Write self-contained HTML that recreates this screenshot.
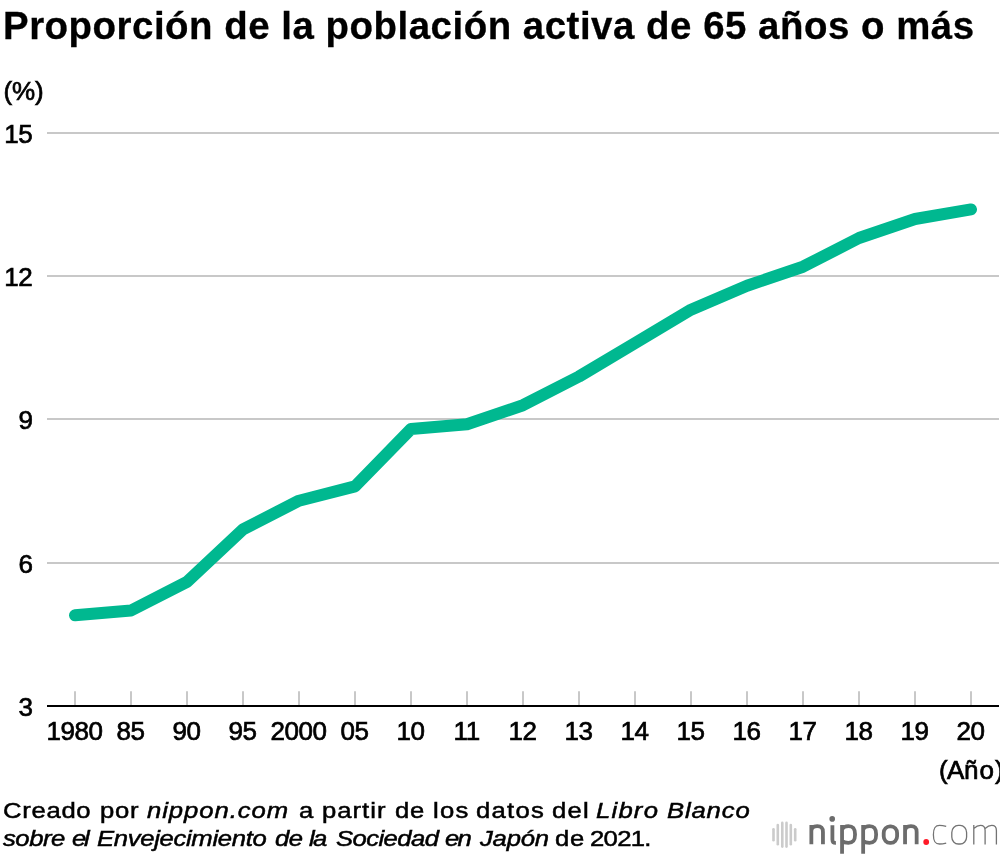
<!DOCTYPE html>
<html><head><meta charset="utf-8"><style>
html,body{margin:0;padding:0;background:#fff;}
body{width:1000px;height:856px;overflow:hidden;position:relative;font-family:"Liberation Sans",sans-serif;color:#000;}
svg text{font-family:"Liberation Sans",sans-serif;font-size:26px;fill:#000;stroke:#000;stroke-width:0.7px;letter-spacing:-0.45px;}
.title{will-change:transform;position:absolute;left:2.6px;top:3.9px;font-weight:bold;font-size:38.4px;white-space:nowrap;letter-spacing:0.53px;-webkit-text-stroke:0.3px #000;}
.foot{will-change:transform;position:absolute;left:0;top:0;font-size:22.3px;line-height:normal;-webkit-text-stroke:0.5px #000;}
.w{position:absolute;white-space:nowrap;transform:scaleX(1.15);transform-origin:0 0;}
.i{font-style:italic;}
</style></head><body>
<div class="title">Proporción de la población activa de 65 años o más</div>
<svg width="1000" height="856" style="position:absolute;left:0;top:0;will-change:transform">
<line x1="47" x2="999" y1="133" y2="133" stroke="#c8c8c8" stroke-width="2"/><line x1="47" x2="999" y1="276" y2="276" stroke="#c8c8c8" stroke-width="2"/><line x1="47" x2="999" y1="419" y2="419" stroke="#c8c8c8" stroke-width="2"/><line x1="47" x2="999" y1="563" y2="563" stroke="#c8c8c8" stroke-width="2"/>
<line x1="75" x2="75" y1="691.3" y2="706" stroke="#c8c8c8" stroke-width="2"/><line x1="131" x2="131" y1="691.3" y2="706" stroke="#c8c8c8" stroke-width="2"/><line x1="187" x2="187" y1="691.3" y2="706" stroke="#c8c8c8" stroke-width="2"/><line x1="243" x2="243" y1="691.3" y2="706" stroke="#c8c8c8" stroke-width="2"/><line x1="299" x2="299" y1="691.3" y2="706" stroke="#c8c8c8" stroke-width="2"/><line x1="355" x2="355" y1="691.3" y2="706" stroke="#c8c8c8" stroke-width="2"/><line x1="411" x2="411" y1="691.3" y2="706" stroke="#c8c8c8" stroke-width="2"/><line x1="467" x2="467" y1="691.3" y2="706" stroke="#c8c8c8" stroke-width="2"/><line x1="523" x2="523" y1="691.3" y2="706" stroke="#c8c8c8" stroke-width="2"/><line x1="579" x2="579" y1="691.3" y2="706" stroke="#c8c8c8" stroke-width="2"/><line x1="635" x2="635" y1="691.3" y2="706" stroke="#c8c8c8" stroke-width="2"/><line x1="691" x2="691" y1="691.3" y2="706" stroke="#c8c8c8" stroke-width="2"/><line x1="747" x2="747" y1="691.3" y2="706" stroke="#c8c8c8" stroke-width="2"/><line x1="803" x2="803" y1="691.3" y2="706" stroke="#c8c8c8" stroke-width="2"/><line x1="859" x2="859" y1="691.3" y2="706" stroke="#c8c8c8" stroke-width="2"/><line x1="915" x2="915" y1="691.3" y2="706" stroke="#c8c8c8" stroke-width="2"/><line x1="971" x2="971" y1="691.3" y2="706" stroke="#c8c8c8" stroke-width="2"/>
<line x1="47" x2="999" y1="706" y2="706" stroke="#000" stroke-width="2"/>
<polyline points="75,615.3 131,610.5 187,581.9 243,529.3 299,500.7 355,486.4 411,429.0 467,424.3 523,405.2 579,376.5 635,343.1 691,309.7 747,285.8 803,266.7 859,238.0 915,219.0 971,209.4" fill="none" stroke="#00b890" stroke-width="12" stroke-linecap="round" stroke-linejoin="round"/>
<text x="74.6" y="739.7" text-anchor="middle">1980</text><text x="130.6" y="739.7" text-anchor="middle">85</text><text x="186.6" y="739.7" text-anchor="middle">90</text><text x="242.6" y="739.7" text-anchor="middle">95</text><text x="298.6" y="739.7" text-anchor="middle">2000</text><text x="354.6" y="739.7" text-anchor="middle">05</text><text x="410.6" y="739.7" text-anchor="middle">10</text><text x="466.6" y="739.7" text-anchor="middle">11</text><text x="522.6" y="739.7" text-anchor="middle">12</text><text x="578.6" y="739.7" text-anchor="middle">13</text><text x="634.6" y="739.7" text-anchor="middle">14</text><text x="690.6" y="739.7" text-anchor="middle">15</text><text x="746.6" y="739.7" text-anchor="middle">16</text><text x="802.6" y="739.7" text-anchor="middle">17</text><text x="858.6" y="739.7" text-anchor="middle">18</text><text x="914.6" y="739.7" text-anchor="middle">19</text><text x="970.6" y="739.7" text-anchor="middle">20</text>
<text x="32.4" y="143.2" text-anchor="end">15</text><text x="32.4" y="286.2" text-anchor="end">12</text><text x="32.4" y="429.2" text-anchor="end">9</text><text x="32.4" y="573.2" text-anchor="end">6</text><text x="32.4" y="716.2" text-anchor="end">3</text>
<text x="3.5" y="100" style="letter-spacing:-0.1px">(%)</text>
<g fill="none" stroke-linecap="round"><line x1="773.5" x2="773.5" y1="829.3000000000001" y2="840.1999999999999" stroke="#cbcbcb" stroke-width="2.6"/><line x1="777.8" x2="777.8" y1="825.1" y2="844.3" stroke="#cbcbcb" stroke-width="2.6"/><line x1="782.3" x2="782.3" y1="822.9000000000001" y2="846.5999999999999" stroke="#cbcbcb" stroke-width="2.6"/><line x1="786.5" x2="786.5" y1="822.9000000000001" y2="846.5999999999999" stroke="#cbcbcb" stroke-width="2.6"/><line x1="790.8" x2="790.8" y1="825.1" y2="844.3" stroke="#cbcbcb" stroke-width="2.6"/><line x1="795.2" x2="795.2" y1="829.3000000000001" y2="840.1999999999999" stroke="#cbcbcb" stroke-width="2.6"/></g><g fill="none" stroke="#6c6c6c" stroke-width="3.8" stroke-linejoin="round"><path d="M811.35,844.2 V824.9 M811.35,831 C811.35,828 813.5500000000001,826.2 817.25,826.2 C821.75,826.2 822.95,828.3 822.95,832 V844.2"/><path d="M832.4,825.3 V839.6 C832.4,842.2 833.3,843 835.9,842.9"/><path d="M842.0500000000001,824.9 V853.7 M842.0500000000001,829 C843.5500000000001,827 845.5500000000001,826.2 848.35,826.2 C853.7500000000001,826.2 855.0500000000001,829.5 855.0500000000001,834.5 C855.0500000000001,839.8 853.7500000000001,842.8 848.35,842.8 C845.5500000000001,842.8 843.5500000000001,842.3 842.0500000000001,841"/><path d="M863.1500000000001,824.9 V853.7 M863.1500000000001,829 C864.6500000000001,827 866.6500000000001,826.2 869.45,826.2 C874.8500000000001,826.2 876.1500000000001,829.5 876.1500000000001,834.5 C876.1500000000001,839.8 874.8500000000001,842.8 869.45,842.8 C866.6500000000001,842.8 864.6500000000001,842.3 863.1500000000001,841"/><rect x="883.7" y="826.3" width="13.4" height="16.6" rx="6.2" ry="6.6"/><path d="M905.0500000000001,844.2 V824.9 M905.0500000000001,831 C905.0500000000001,828 907.2500000000001,826.2 910.95,826.2 C915.45,826.2 916.6500000000001,828.3 916.6500000000001,832 V844.2"/></g><circle cx="832.2" cy="818.9" r="2.8" fill="#6c6c6c"/><circle cx="926.2" cy="842" r="2.9" fill="#ff1a28"/><g fill="none" stroke="#737373" stroke-width="1.3"><path d="M946.2,826.3 C943,825.5 941,825.4 939.5,825.4 C935,825.4 933.4,828 933.4,834.7 C933.4,841.4 935,844 939.5,844 C941,844 943,843.9 946.2,843.1"/><rect x="951.8" y="825.4" width="14.8" height="18.6" rx="6.5" ry="7"/><path d="M973.8,824.9 V844.4 M973.8,828.5 C976,826.5 978.5,825.4 980.5,825.4 C983.8,825.4 985.1,827 985.1,830.5 V844.4 M985.1,828.5 C987.3,826.5 989.8,825.4 991.8,825.4 C995.1,825.4 996.4,827 996.4,830.5 V844.4"/></g>
<text x="939.0 947.1 964.1 979.5 995" y="779">(Año)</text>
</svg>
<div class="foot"><span class="w" style="left:2.75px;top:798.12px;letter-spacing:0.61px">Creado</span><span class="w" style="left:99.50px;top:798.12px;letter-spacing:0.67px">por</span><span class="w i" style="left:147.20px;top:798.12px;letter-spacing:0.83px">nippon.com</span><span class="w" style="left:298.50px;top:798.12px;letter-spacing:0px">a</span><span class="w" style="left:321.75px;top:798.12px;letter-spacing:0.87px">partir</span><span class="w" style="left:394.50px;top:798.12px;letter-spacing:0.75px">de</span><span class="w" style="left:432.80px;top:798.12px;letter-spacing:1.09px">los</span><span class="w" style="left:476.00px;top:798.12px;letter-spacing:1.11px">datos</span><span class="w" style="left:551.75px;top:798.12px;letter-spacing:1.11px">del</span><span class="w i" style="left:596.00px;top:798.12px;letter-spacing:1.06px">Libro</span><span class="w i" style="left:667.25px;top:798.12px;letter-spacing:0.74px">Blanco</span><span class="w i" style="left:3.00px;top:826.07px;letter-spacing:-0.39px">sobre</span><span class="w i" style="left:72.00px;top:826.07px;letter-spacing:-2.0px">el</span><span class="w i" style="left:97.25px;top:826.07px;letter-spacing:-0.28px">Envejecimiento</span><span class="w i" style="left:274.75px;top:826.07px;letter-spacing:-0.55px">de</span><span class="w i" style="left:309.25px;top:826.07px;letter-spacing:-1.4px">la</span><span class="w i" style="left:335.50px;top:826.07px;letter-spacing:-0.5px">Sociedad</span><span class="w i" style="left:445.25px;top:826.07px;letter-spacing:-1.5px">en</span><span class="w i" style="left:480.00px;top:826.07px;letter-spacing:-0.18px">Japón</span><span class="w" style="left:554.75px;top:826.07px;letter-spacing:0.75px">de</span><span class="w" style="left:590.00px;top:826.07px;letter-spacing:-0.59px">2021.</span></div>
</body></html>
